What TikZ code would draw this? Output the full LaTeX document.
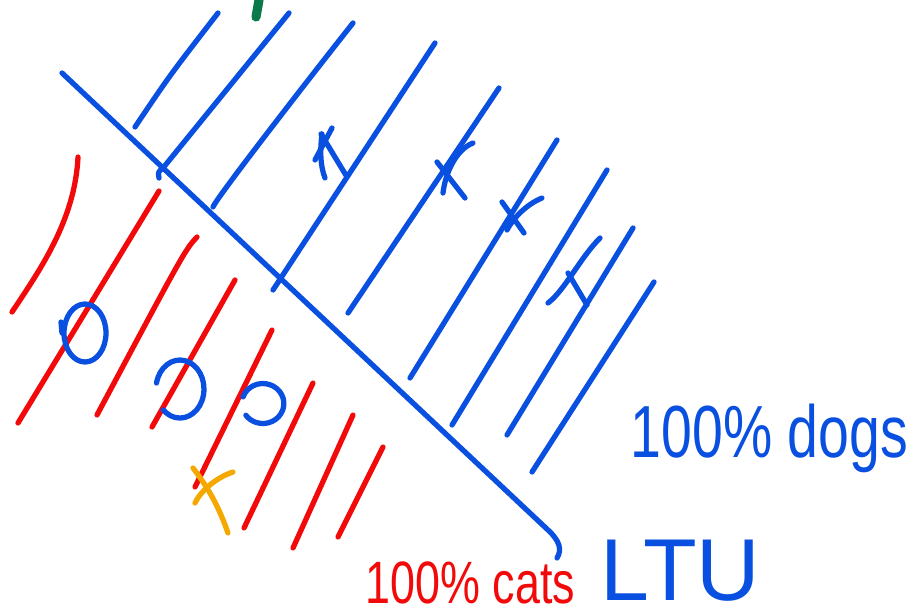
\documentclass[tikz,border=0pt]{standalone}
\usepackage{fontspec}
\setmainfont{Liberation Sans}
\newfontfamily\handfont[FakeStretch=0.75]{Liberation Sans}
\usepackage{tikz}
\usetikzlibrary{calc}
\definecolor{InkBlue}{HTML}{0A50E0}
\definecolor{InkRed}{HTML}{F20A0A}
\definecolor{InkOrange}{HTML}{F5A800}
\definecolor{InkGreen}{HTML}{0B7A4B}

\begin{document}
\begin{tikzpicture}[x=0.01cm, y=-0.01cm, line cap=round, line join=round,
  ink/.style={line width=1.5pt},
  dogpen/.style={ink, InkBlue},
  catpen/.style={ink, InkRed}]
  \useasboundingbox (0,0) rectangle (913,616);

  % Green tick at the top
  \draw[line width=2.6pt, InkGreen] (259,0) -- (256,17);

  % Decision boundary
  \draw[dogpen] (62,73) -- (548,530) .. controls (560,541) and (562,550) .. (557,558);

  % Dog side hatching
  \draw[dogpen] (135,127) .. controls (170,75) .. (218,13);
  \draw[dogpen] (159,178) .. controls (158,172) .. (163,168) -- (289,13);
  \draw[dogpen] (213,207) .. controls (215,200) and (300,90) .. (353,23);
  \draw[dogpen] (273,290) -- (435,43);
  \draw[dogpen] (348,313) -- (499,88);
  \draw[dogpen] (410,378) -- (557,140);
  \draw[dogpen] (452,425) -- (607,170);
  \draw[dogpen] (507,435) -- (633,228);
  \draw[dogpen] (532,472) -- (654,282);

  % Marks on the dog side
  \draw[dogpen] (347,177) -- (321,134);
  \draw[dogpen] (325,178) .. controls (320,165) and (320,150) .. (322,134);
  \draw[dogpen] (315,160) -- (332,128);
  \draw[dogpen] (437,162) -- (465,198);
  \draw[dogpen] (473,143) .. controls (455,150) and (445,175) .. (443,193);
  \draw[dogpen] (502,202) -- (524,233);
  \draw[dogpen] (542,198) .. controls (525,205) and (512,220) .. (507,230);
  \draw[dogpen] (600,238) .. controls (580,258) and (565,290) .. (548,303);
  \draw[dogpen] (568,273) -- (587,305);

  % Cat side hatching
  \draw[catpen] (78,157) .. controls (75,220) and (40,270) .. (12,312);
  \draw[catpen] (159,191) -- (18,423);
  \draw[catpen] (197,237) .. controls (185,250) .. (97,415);
  \draw[catpen] (235,280) -- (152,427);
  \draw[catpen] (272,330) -- (195,487);
  \draw[catpen] (313,383) -- (244,528);
  \draw[catpen] (353,415) -- (293,548);
  \draw[catpen] (383,447) -- (338,537);

  % Circles
  \draw[dogpen] (85,333) ellipse (21 and 29);
  \draw[dogpen] (61,322) -- (62,333);
  \draw[dogpen] (156.5,383) arc[start angle=192, end angle=494, x radius=24, y radius=29];
  \draw[dogpen] (243,397) arc[start angle=199, end angle=504, x radius=21, y radius=20];

  % Orange cross
  \draw[ink, InkOrange] (193,468) .. controls (210,490) and (220,510) .. (228,533);
  \draw[ink, InkOrange] (233,472) .. controls (215,478) and (200,492) .. (195,503);

  % Labels
  \node[anchor=base west, inner sep=0pt, text=InkBlue, font=\handfont\fontsize{21}{21}\selectfont] (dogs) at (630,457) {100\% dogs};
  \node[anchor=base west, inner sep=0pt, text=InkRed, font=\handfont\fontsize{17}{17}\selectfont] (cats) at (365,603) {100\% cats};
  \node[anchor=base west, inner sep=0pt, text=InkBlue, font=\fontsize{25}{25}\selectfont] (ltu) at (600,600) {LTU};
\end{tikzpicture}
\end{document}
